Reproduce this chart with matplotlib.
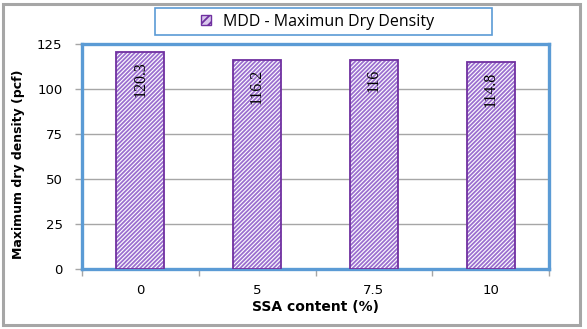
import matplotlib
matplotlib.use("Agg")
import matplotlib.pyplot as plt
from matplotlib.patches import Rectangle, Patch
from matplotlib.ticker import FixedLocator, NullFormatter
import numpy as np

# Data
ssa_content = ["0", "5", "7.5", "10"]
mdd_values = [120.3, 116.2, 116.0, 114.8]
mdd_labels = ["120.3", "116.2", "116", "114.8"]
y_ticks = [0, 25, 50, 75, 100, 125]

W, H = 587, 329
fig = plt.figure(figsize=(W / 100, H / 100), dpi=100)
fig.patch.set_facecolor("white")

plt.rcParams["hatch.color"] = "#9B6FCF"
plt.rcParams["hatch.linewidth"] = 1.3

# Axes placed in pixel units
left, right, top, bottom = 82, 549, 44, 269
ax = fig.add_axes([left / W, 1 - bottom / H, (right - left) / W, (bottom - top) / H])

x = np.arange(len(ssa_content))
bars = ax.bar(x, mdd_values, width=0.41, facecolor="white", edgecolor="#7030A0",
              linewidth=1.3, hatch="////////", zorder=3)
for b in bars:
    b._hatch_color = matplotlib.colors.to_rgba("#9B6FCF")

ax.set_xlim(-0.5, len(ssa_content) - 0.5)
ax.set_ylim(0, 125)
ax.set_yticks(y_ticks)
ax.set_xticks(x)
ax.set_xticklabels(ssa_content)
ax.xaxis.set_minor_locator(FixedLocator(np.arange(-0.5, len(ssa_content), 1.0)))
ax.xaxis.set_minor_formatter(NullFormatter())

ax.yaxis.grid(True, color="#A6A6A6", linewidth=1.0, zorder=0)
ax.set_axisbelow(True)

for s in ax.spines.values():
    s.set_color("#5B9BD5")
    s.set_linewidth(2.4)

ax.tick_params(axis="y", which="major", length=5, width=1, color="#A6A6A6",
               pad=9, labelsize=9.5)
ax.tick_params(axis="x", which="major", length=0, pad=11, labelsize=9.5)
ax.tick_params(axis="x", which="minor", length=5, width=1, color="#A6A6A6")
for lbl in ax.get_xticklabels() + ax.get_yticklabels():
    lbl.set_fontfamily("DejaVu Sans")

ax.set_ylabel("Maximum dry density (pcf)", fontsize=9, fontweight="bold",
              family="DejaVu Sans")
ax.yaxis.set_label_coords((25 - left) / (right - left), (bottom - 164) / (bottom - top))
ax.set_xlabel("SSA content (%)", fontsize=10, fontweight="bold",
              family="DejaVu Sans", labelpad=2)

# Value labels inside the top of each bar
for xi, v, txt in zip(x, mdd_values, mdd_labels):
    ax.annotate(txt, (xi, v), xytext=(0, -6.5), textcoords="offset points",
                rotation=90, ha="center", va="top", fontsize=11.5,
                family="Liberation Serif", color="black", zorder=4)

# Legend box
fig.patches.append(Rectangle((155 / W, 1 - 35 / H), (492 - 155) / W, 27 / H,
                             transform=fig.transFigure, facecolor="white",
                             edgecolor="#5B9BD5", linewidth=1.2))
handle = Patch(facecolor="#D9C8EC", edgecolor="#7030A0", hatch="////",
               label="MDD - Maximun Dry Density")
leg = fig.legend(handles=[handle], loc="center left",
                 bbox_to_anchor=(201 / W, 1 - 21.5 / H), frameon=False,
                 handlelength=0.6, handleheight=0.6, handletextpad=0.8,
                 borderpad=0, borderaxespad=0,
                 prop=dict(family="Open Sans", size=11.5))

# Outer chart border
fig.patches.append(Rectangle((3 / W, 4 / H), (580 - 3) / W, (325 - 4) / H,
                             transform=fig.transFigure, facecolor="none",
                             edgecolor="#A6A6A6", linewidth=2.2))

fig.savefig("out.png", dpi=100)
